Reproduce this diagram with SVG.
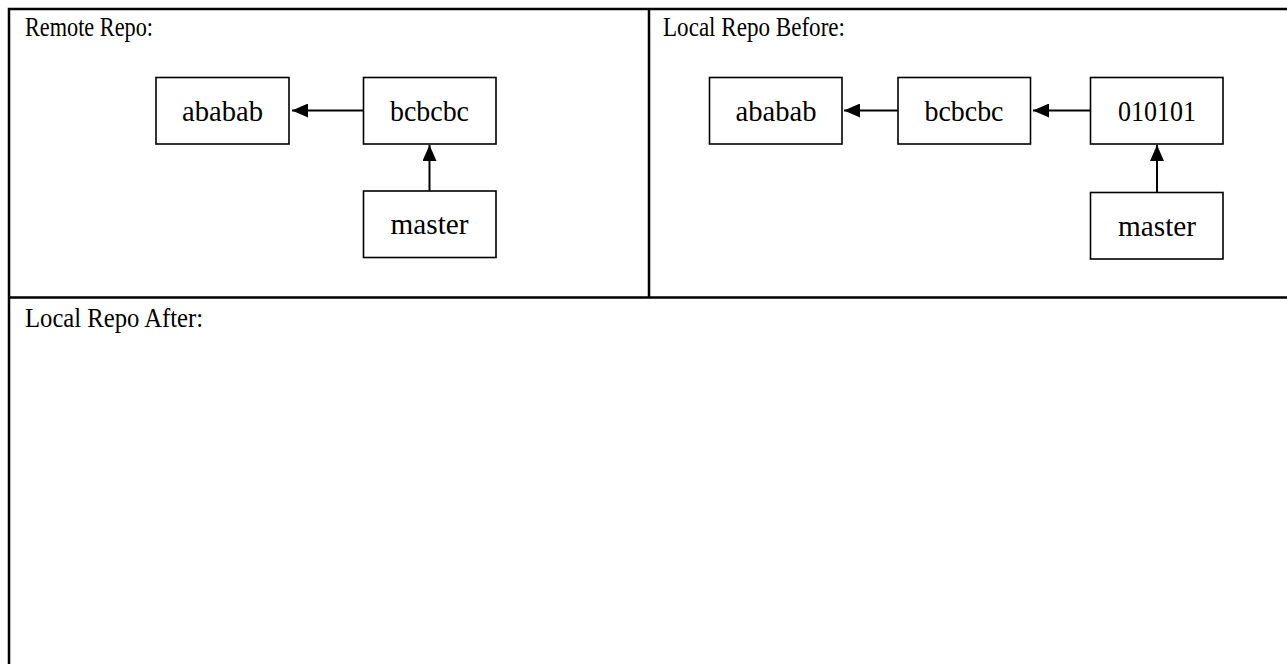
<svg xmlns="http://www.w3.org/2000/svg" width="1287" height="664" viewBox="0 0 1287 664">
<style>
.frame{stroke:#000;stroke-width:2.5;fill:none}
.box{fill:#fff;stroke:#000;stroke-width:1.6}
.lbl{font-family:"Liberation Serif","Times New Roman",serif;font-size:30px;fill:#000;text-anchor:middle}
.title{font-family:"Liberation Serif","Times New Roman",serif;font-size:27px;fill:#000}
.conn{stroke:#000;stroke-width:2;fill:none;marker-end:url(#ah)}
</style>
<defs>
<marker id="ah" markerWidth="17" markerHeight="14" refX="16" refY="7" orient="auto" markerUnits="userSpaceOnUse">
<path d="M0,0 L16,7 L0,14 Z" fill="#000"/>
</marker>
</defs>
<rect width="1287" height="664" fill="#fff"/>
<g id="table">
<path class="frame" d="M9,664 V9 H1287 M9,297.5 H1287 M649,9 V297.5"/>
<text class="title" x="25" y="36" textLength="128" lengthAdjust="spacingAndGlyphs">Remote Repo:</text>
<text class="title" x="663" y="36" textLength="182" lengthAdjust="spacingAndGlyphs">Local Repo Before:</text>
<text class="title" x="25" y="327" textLength="178" lengthAdjust="spacingAndGlyphs">Local Repo After:</text>
</g>
<g id="connectors">
<line class="conn" x1="363" y1="110.5" x2="292" y2="110.5"/>
<line class="conn" x1="429.5" y1="191" x2="429.5" y2="145"/>
<line class="conn" x1="898" y1="110.5" x2="844" y2="110.5"/>
<line class="conn" x1="1090" y1="110.5" x2="1033" y2="110.5"/>
<line class="conn" x1="1157" y1="192" x2="1157" y2="145"/>
</g>
<g id="remote-ababab"><rect class="box" x="156" y="77.5" width="133" height="66.5"/><text class="lbl" x="222.5" y="121" textLength="81" lengthAdjust="spacingAndGlyphs">ababab</text></g>
<g id="remote-bcbcbc"><rect class="box" x="363.5" y="77.5" width="132.5" height="66.5"/><text class="lbl" x="429.5" y="121" textLength="79" lengthAdjust="spacingAndGlyphs">bcbcbc</text></g>
<g id="remote-master"><rect class="box" x="363.5" y="191" width="132.5" height="66.5"/><text class="lbl" x="429.5" y="234" textLength="78" lengthAdjust="spacingAndGlyphs">master</text></g>
<g id="local-ababab"><rect class="box" x="709.5" y="77.5" width="132.5" height="66.5"/><text class="lbl" x="776" y="121" textLength="81" lengthAdjust="spacingAndGlyphs">ababab</text></g>
<g id="local-bcbcbc"><rect class="box" x="898" y="77.5" width="132.5" height="66.5"/><text class="lbl" x="964" y="121" textLength="79" lengthAdjust="spacingAndGlyphs">bcbcbc</text></g>
<g id="local-010101"><rect class="box" x="1090.5" y="77.5" width="132.5" height="66.5"/><text class="lbl" x="1157" y="121" textLength="78" lengthAdjust="spacingAndGlyphs">010101</text></g>
<g id="local-master"><rect class="box" x="1090.5" y="192.5" width="132.5" height="66.5"/><text class="lbl" x="1157" y="236" textLength="78" lengthAdjust="spacingAndGlyphs">master</text></g>
</svg>
